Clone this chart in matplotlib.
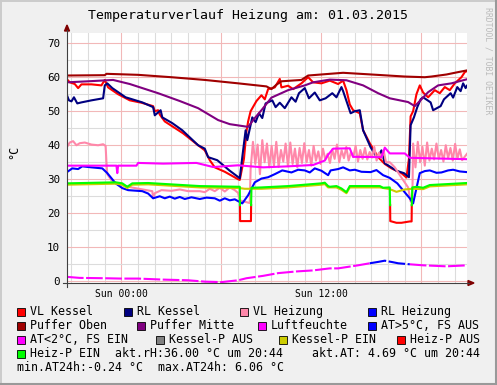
import numpy as np
import matplotlib.pyplot as plt
from matplotlib.patches import Rectangle, Polygon
from matplotlib.lines import Line2D

plt.rcParams['font.family'] = ['DejaVu Sans Mono']

W, H = 497, 385

# time axis: hours relative to Sun 00:00, window ends at 20:44
t_start, t_end = -3.267, 20.733

# VL Kessel (red)
vlk_h = [-3.27, -3.1, -2.8, -2.6, -2.4, -1.8, -1.2, -1.0, -0.8, -0.2, 0.5, 1.2, 1.9, 2.0, 2.2, 2.3,
         2.6, 3.7, 4.6, 5.0, 5.3, 5.6, 6.2, 7.0, 7.1, 7.35, 7.5, 7.6, 7.75, 8.1, 8.4, 8.6, 8.8, 9.2,
         9.5, 9.6, 10.0, 10.3, 10.8, 11.2, 11.5, 12.0, 12.5, 13.0, 13.3, 13.5, 13.7, 13.9, 14.3, 14.5,
         14.9, 15.4, 15.8, 16.2, 16.8, 17.1, 17.25, 17.35, 17.5, 17.7, 17.9, 18.1, 18.4, 18.8, 19.1,
         19.4, 19.7, 20.0, 20.4, 20.6, 20.73]
vlk_v = [59.4, 58.5, 58.0, 56.8, 57.9, 57.9, 57.6, 59.2, 57.0, 55.0, 53.2, 52.5, 51.5, 50.0, 50.3, 49.0,
         47.0, 43.5, 40.0, 38.5, 35.6, 33.5, 32.2, 30.0, 29.8, 36.0, 44.0, 47.0, 50.0, 53.0, 54.7, 53.5,
         56.5, 57.0, 59.5, 57.0, 57.5, 56.5, 58.2, 60.0, 58.5, 58.2, 59.0, 58.0, 59.0, 56.2, 52.0, 50.3,
         49.4, 44.4, 40.6, 36.5, 34.5, 33.2, 31.8, 30.5, 36.0, 48.5, 50.0, 55.0, 57.6, 55.5, 54.1, 56.2,
         55.3, 57.1, 56.2, 58.2, 60.0, 61.5, 61.8]

# RL Kessel (navy)
rlk_h = [-3.27, -3.15, -3.0, -2.85, -2.65, -2.4, -1.8, -1.1, -1.0, -0.85, -0.55, 0.25, 1.25, 1.9, 2.0,
         2.35, 2.45, 3.05, 3.65, 4.6, 5.0, 5.2, 5.75, 6.5, 7.1, 7.25, 7.45, 7.55, 7.85, 8.05, 8.25, 8.45,
         8.65, 9.05, 9.25, 9.5, 9.8, 10.2, 10.45, 10.65, 11.0, 11.25, 11.6, 11.9, 12.25, 12.65, 12.9,
         13.2, 13.3, 13.75, 14.0, 14.3, 14.5, 14.95, 15.35, 15.6, 15.8, 16.5, 16.95, 17.25, 17.35, 17.55,
         17.75, 17.95, 18.1, 18.55, 18.7, 19.15, 19.35, 19.75, 19.9, 20.15, 20.35, 20.5, 20.65, 20.73]
rlk_v = [54.7, 53.2, 52.9, 54.1, 52.3, 52.6, 53.2, 53.8, 57.6, 58.2, 56.8, 54.1, 52.6, 51.2, 48.8,
         50.3, 48.2, 46.5, 44.4, 40.0, 39.0, 36.5, 35.6, 32.5, 30.3, 36.5, 44.4, 41.5, 48.2, 46.8, 49.4,
         48.0, 52.3, 53.2, 51.2, 52.5, 50.9, 54.1, 52.8, 55.3, 56.8, 53.8, 55.5, 53.2, 53.8, 55.3, 54.1,
         57.1, 55.9, 49.4, 50.0, 50.3, 44.4, 39.4, 36.2, 38.5, 34.7, 32.5, 31.8, 30.6, 45.9, 48.2,
         51.2, 53.5, 54.1, 52.6, 50.3, 51.5, 53.5, 55.3, 54.0, 57.1, 55.9, 58.2, 56.8, 57.5]

# VL Heizung (pink)
vlh_h = [-3.27, -3.1, -2.9, -2.7, -2.5, -2.2, -1.8, -1.4, -1.1, -0.95, -0.9, -0.85, -0.6, -0.2, 0.6,
         1.5, 1.85, 1.9, 2.0, 2.4, 3.0, 3.5, 4.0, 4.7, 5.0, 5.3, 5.6, 5.9, 6.2, 6.5, 6.8, 7.0, 7.1, 7.7]
vlh_v = [39.5, 40.8, 41.2, 40.0, 40.6, 40.8, 40.2, 40.0, 40.3, 39.8, 35.0, 31.5, 29.7, 28.5, 27.6,
         26.8, 26.5, 24.6, 25.9, 26.8, 26.6, 27.0, 26.5, 26.5, 26.2, 27.2, 26.5, 27.5, 26.4, 27.6, 26.8,
         26.0, 23.8, 23.0]
vlh_osc1 = [33.0, 41.0, 34.5, 40.2, 31.5, 41.5, 35.0, 40.5, 33.5, 39.8, 34.0, 41.0, 33.6, 38.6, 35.2,
            40.5, 33.8, 40.8, 34.5, 39.0, 33.5, 39.2, 34.8, 40.6, 35.0, 38.6, 34.0, 39.8, 35.5, 38.2,
            34.5, 39.0, 35.8, 37.5, 34.8, 38.8, 36.0, 40.2, 35.0, 38.5, 36.2, 39.5, 35.5, 38.0, 36.5,
            39.8, 35.2, 38.6, 36.0, 39.2, 35.8, 38.0, 36.4, 39.5, 35.5, 37.8, 36.2, 38.5, 35.0]
vlh_mid_h = [16.1, 16.4, 16.8, 17.2, 17.35, 17.45]
vlh_mid_v = [35.0, 33.5, 30.5, 27.6, 23.5, 23.0]
vlh_osc2 = [40.5, 33.5, 41.0, 35.0, 39.5, 34.0, 40.8, 35.5, 39.0, 35.8, 40.5, 36.0, 38.6, 35.2, 40.0,
            36.2, 39.2, 35.5, 40.4, 36.0, 38.8, 35.6, 37.5]

# RL Heizung (blue)
rlh_h = [-3.27, -2.95, -2.6, -2.35, -1.8, -1.15, -0.85, -0.35, 0.05, 0.4, 1.25, 1.6, 1.9, 2.3, 2.6,
         2.9, 3.2, 3.5, 3.8, 4.2, 4.7, 5.1, 5.6, 5.9, 6.2, 6.5, 6.8, 7.25, 7.6, 8.0, 8.4, 8.8, 9.2,
         9.65, 10.2, 10.6, 11.0, 11.3, 11.6, 12.0, 12.4, 12.55, 13.0, 13.3, 13.7, 14.0, 14.4, 14.95,
         15.3, 15.7, 16.1, 16.55, 17.3, 17.5, 17.9, 18.2, 18.5, 18.9, 19.2, 19.6, 19.9, 20.3, 20.73]
rlh_v = [32.1, 33.2, 33.0, 33.8, 33.5, 33.2, 31.8, 28.8, 27.4, 26.8, 26.5, 25.8, 24.4, 25.0, 24.4,
         24.9, 24.3, 24.8, 24.2, 24.7, 24.2, 24.6, 24.4, 23.7, 24.4, 23.8, 24.1, 22.9, 25.3, 29.1,
         30.2, 30.6, 31.5, 32.6, 32.0, 32.8, 32.6, 32.0, 33.2, 32.5, 31.2, 32.6, 33.0, 33.5, 32.6,
         32.8, 32.2, 32.1, 32.7, 31.2, 30.4, 28.8, 24.4, 22.9, 31.8, 32.4, 32.6, 31.9, 32.0, 32.6,
         32.8, 32.3, 32.1]

# Puffer Oben (dark red)
po_h = [-3.27, -1.0, -0.9, 1.0, 3.0, 5.0, 7.0, 8.7, 9.0, 9.3, 9.6, 10.8, 11.2, 12.5, 13.3, 15.0,
        17.0, 18.2, 18.6, 19.5, 20.2, 20.73]
po_v = [60.5, 60.6, 61.0, 60.7, 60.0, 59.2, 58.2, 57.3, 56.5, 57.8, 58.8, 59.2, 60.5, 61.0, 61.3,
        60.8, 60.2, 60.0, 60.2, 60.8, 61.5, 62.0]

# Puffer Mitte (purple)
pm_h = [-3.27, -2.0, -0.5, 0.5, 2.2, 3.5, 4.6, 5.8, 6.5, 7.6, 8.0, 8.4, 9.0, 10.0, 11.0, 11.5, 12.5,
        13.5, 14.5, 15.4, 16.1, 17.2, 17.6, 18.0, 18.4, 19.0, 19.8, 20.73]
pm_v = [58.5, 58.8, 59.2, 58.0, 55.3, 53.0, 50.9, 47.4, 46.2, 45.4, 48.0, 50.3, 54.0, 56.2, 57.6,
        58.5, 59.3, 59.1, 57.6, 55.3, 53.8, 52.7, 51.5, 53.5, 55.6, 57.6, 58.2, 59.4]

# Luftfeuchte (magenta)
lf_h = [-3.27, -0.3, -0.25, -0.2, 0.9, 1.0, 2.5, 4.5, 5.5, 7.0, 8.5, 10.0, 11.5, 12.2, 12.4, 12.7,
        13.7, 13.9, 15.6, 15.8, 16.1, 17.0, 17.3, 20.73]
lf_v = [34.0, 34.0, 31.8, 34.0, 34.0, 34.8, 34.6, 34.8, 33.6, 34.1, 33.5, 33.8, 34.2, 35.5, 37.2,
        39.0, 39.1, 36.6, 36.5, 39.3, 37.6, 37.6, 36.3, 35.9]

# outside temperature (AT)
at_h = [-3.27, -2.5, -1.0, 0.0, 1.0, 2.5, 4.0, 5.0, 6.0, 7.0, 7.5, 8.5, 9.4, 10.5, 11.5, 12.5, 13.0,
        14.2, 14.9, 15.4, 15.8, 16.3, 16.6, 17.3, 18.1, 19.5, 20.73]
at_v = [1.3, 1.0, 0.9, 0.8, 0.8, 0.5, 0.3, -0.1, -0.24, 0.3, 0.9, 1.6, 2.4, 2.9, 3.2, 3.8, 3.8,
        4.7, 5.3, 5.7, 6.06, 5.6, 5.3, 5.0, 4.7, 4.4, 4.69]
fs_aus_from, fs_aus_to = 14.9, 17.3

# Heiz-P EIN (green) / Heiz-P AUS (red)
hpe_h = [-3.27, -0.35, 0.05, 0.35, 0.65, 1.6, 4.7, 7.0, 7.1, 7.11, np.nan, 7.78, 7.8, 8.4, 10.0,
         12.0, 12.2, 12.4, 12.5, 12.9, 13.2, 13.5, 13.7, 15.5, 15.7, 16.1, 16.12, np.nan, 17.42, 17.45,
         17.7, 18.1, 18.5, 20.73]
hpe_v = [28.8, 29.1, 28.8, 27.8, 28.8, 28.9, 28.0, 27.8, 27.8, 22.4, np.nan, 22.4, 27.5, 27.6, 28.0,
         28.8, 29.0, 28.0, 27.8, 28.0, 27.3, 26.2, 28.0, 28.0, 27.5, 27.6, 22.4, np.nan, 22.4, 27.6,
         27.8, 27.5, 28.3, 28.9]
hpa_h = [7.11, 7.12, 7.77, 7.78, np.nan, 16.12, 16.13, 16.5, 16.8, 17.3, 17.41, 17.42]
hpa_v = [22.4, 17.7, 17.7, 22.4, np.nan, 22.4, 17.7, 17.2, 17.2, 17.6, 17.6, 22.4]

# Kessel-P EIN (yellow)
kpe_h = [-3.27, -0.35, 0.05, 0.35, 0.65, 1.6, 4.7, 7.1, 7.4, 7.8, 8.4, 10.0, 12.0, 12.2, 12.4, 12.9,
         13.2, 13.5, 13.7, 15.5, 16.1, 16.5, 17.0, 17.45, 18.1, 18.5, 20.73]
kpe_v = [28.4, 28.7, 28.4, 27.4, 28.4, 28.5, 27.6, 27.4, 27.2, 27.2, 27.2, 27.6, 28.4, 28.6, 27.6,
         27.6, 26.9, 25.9, 27.6, 27.6, 27.1, 26.3, 27.0, 27.2, 27.1, 27.9, 28.5]

legend_names = [['VL Kessel', 'RL Kessel', 'VL Heizung', 'RL Heizung'],
                ['Puffer Oben', 'Puffer Mitte', 'Luftfeuchte', 'AT>5°C, FS AUS'],
                ['AT<2°C, FS EIN', 'Kessel-P AUS', 'Kessel-P EIN', 'Heiz-P AUS'],
                ['Heiz-P EIN']]
legend_colors = [['#FF0000', '#000080', '#FF88AA', '#0000FF'],
                 ['#A00000', '#800080', '#FF00FF', '#0000FF'],
                 ['#FF00FF', '#808080', '#CCCC00', '#FF0000'],
                 ['#00FF00']]
legend_box_x = [[17, 124, 240, 368], [17, 137, 258, 368], [17, 156, 279, 397], [17]]
akt_rh, akt_at, min_at, max_at = 36.00, 4.69, -0.24, 6.06

fig = plt.figure(figsize=(W / 100, H / 100), dpi=100, facecolor='#F0F0F0')
ax = fig.add_axes([67 / W, 1 - 283 / H, 400 / W, 250 / H])
ax.set_facecolor('white')
ax.set_xlim(t_start, t_end)
ax.set_ylim(-0.5, 73.0)

# grid
for hh in range(-3, 21):
    ax.axvline(hh, color='#F2B8B8' if hh % 6 == 0 else '#DCDCDC', lw=0.8, zorder=0.5)
for vv in range(0, 75, 5):
    ax.axhline(vv, color='#F2B8B8' if vv % 10 == 0 else '#DCDCDC', lw=0.8, zorder=0.5)

lw = 1.5
ax.plot(vlk_h, vlk_v, color='#FF0000', lw=lw)
ax.plot(rlk_h, rlk_v, color='#000080', lw=lw)
vlh_all_h = np.concatenate([vlh_h, 7.75 + 0.14 * np.arange(len(vlh_osc1)), vlh_mid_h,
                            17.5 + 0.14 * np.arange(len(vlh_osc2) - 1), [t_end]])
vlh_all_v = np.concatenate([vlh_v, vlh_osc1, vlh_mid_v, vlh_osc2])
ax.plot(vlh_all_h, vlh_all_v, color='#FF88AA', lw=lw)
ax.plot(rlh_h, rlh_v, color='#0000FF', lw=lw)
ax.plot(po_h, po_v, color='#A00000', lw=lw)
ax.plot(pm_h, pm_v, color='#800080', lw=lw)
ax.plot(lf_h, lf_v, color='#FF00FF', lw=lw)

at_h = np.array(at_h)
at_v = np.array(at_v)
aus = (at_h >= fs_aus_from) & (at_h <= fs_aus_to)
ein1 = at_h <= fs_aus_from
ein2 = at_h >= fs_aus_to
ax.plot(at_h[ein1], at_v[ein1], color='#FF00FF', lw=lw, dashes=(8, 1.2))
ax.plot(at_h[ein2], at_v[ein2], color='#FF00FF', lw=lw, dashes=(8, 1.2))
ax.plot(at_h[aus], at_v[aus], color='#0000FF', lw=lw, dashes=(8, 1.2))

ax.plot(kpe_h, kpe_v, color='#CCCC00', lw=lw)
ax.plot(hpa_h, hpa_v, color='#FF0000', lw=lw)
ax.plot(hpe_h, hpe_v, color='#00FF00', lw=lw)

for s in ax.spines.values():
    s.set_visible(False)
ax.set_yticks(range(0, 71, 10))
ax.set_xticks([0, 12])
ax.set_xticklabels(['Sun 00:00', 'Sun 12:00'])
ax.tick_params(axis='y', length=0, pad=5, labelsize=7.8)
ax.tick_params(axis='x', length=0, pad=4, labelsize=7)


def fx(x):
    return x / W


def fy(y):
    return 1 - y / H


# axes with arrows
fig.add_artist(Line2D([fx(67), fx(67)], [fy(287), fy(30)], color='#404040', lw=0.8))
fig.add_artist(Line2D([fx(63), fx(469)], [fy(283), fy(283)], color='#404040', lw=0.8))
fig.add_artist(Polygon([[fx(64.5), fy(31)], [fx(69.5), fy(31)], [fx(67), fy(25)]],
                       closed=True, color='#7F0000'))
fig.add_artist(Polygon([[fx(468), fy(280.5)], [fx(468), fy(285.5)], [fx(474), fy(283)]],
                       closed=True, color='#7F0000'))

fig.text(0.5, fy(16), 'Temperaturverlauf Heizung am: 01.03.2015', fontsize=9.5,
         ha='center', va='center')
fig.text(fx(14), fy(152), '°C', rotation=90, fontsize=8.5, ha='center', va='center')
fig.text(fx(488), fy(7), 'RRDTOOL / TOBI OETIKER', rotation=-90, fontsize=5.9,
         ha='center', va='top', color='#BBBBBB')

# legend
fs = 8.4
row_y = [311.5, 325.5, 339.5, 353.5, 367.5]
for r, names in enumerate(legend_names):
    for c, name in enumerate(names):
        bx = legend_box_x[r][c]
        fig.add_artist(Rectangle((fx(bx), fy(row_y[r] + 4)), 8 / W, 8 / H,
                                 facecolor=legend_colors[r][c], edgecolor='black', lw=0.6))
        fig.text(fx(bx + 13), fy(row_y[r]), name, fontsize=fs, ha='left', va='center')
fig.text(fx(115), fy(row_y[3]), 'akt.rH:%.2f °C um 20:44' % akt_rh, fontsize=fs,
         ha='left', va='center')
fig.text(fx(312), fy(row_y[3]), 'akt.AT: %.2f °C um 20:44' % akt_at, fontsize=fs,
         ha='left', va='center')
fig.text(fx(17), fy(row_y[4]), 'min.AT24h:%.2f °C' % min_at, fontsize=fs, ha='left', va='center')
fig.text(fx(158), fy(row_y[4]), 'max.AT24h: %.2f °C' % max_at, fontsize=fs, ha='left', va='center')

# 3D frame
fig.add_artist(Line2D([0, 1], [fy(0.7), fy(0.7)], color='#CBCBCB', lw=1.4))
fig.add_artist(Line2D([fx(0.7), fx(0.7)], [0, 1], color='#CBCBCB', lw=1.4))
fig.add_artist(Line2D([0, 1], [fy(384), fy(384)], color='#999999', lw=1.5))
fig.add_artist(Line2D([fx(496), fx(496)], [0, 1], color='#999999', lw=1.5))

fig.savefig('out.png', dpi=100, facecolor=fig.get_facecolor())
